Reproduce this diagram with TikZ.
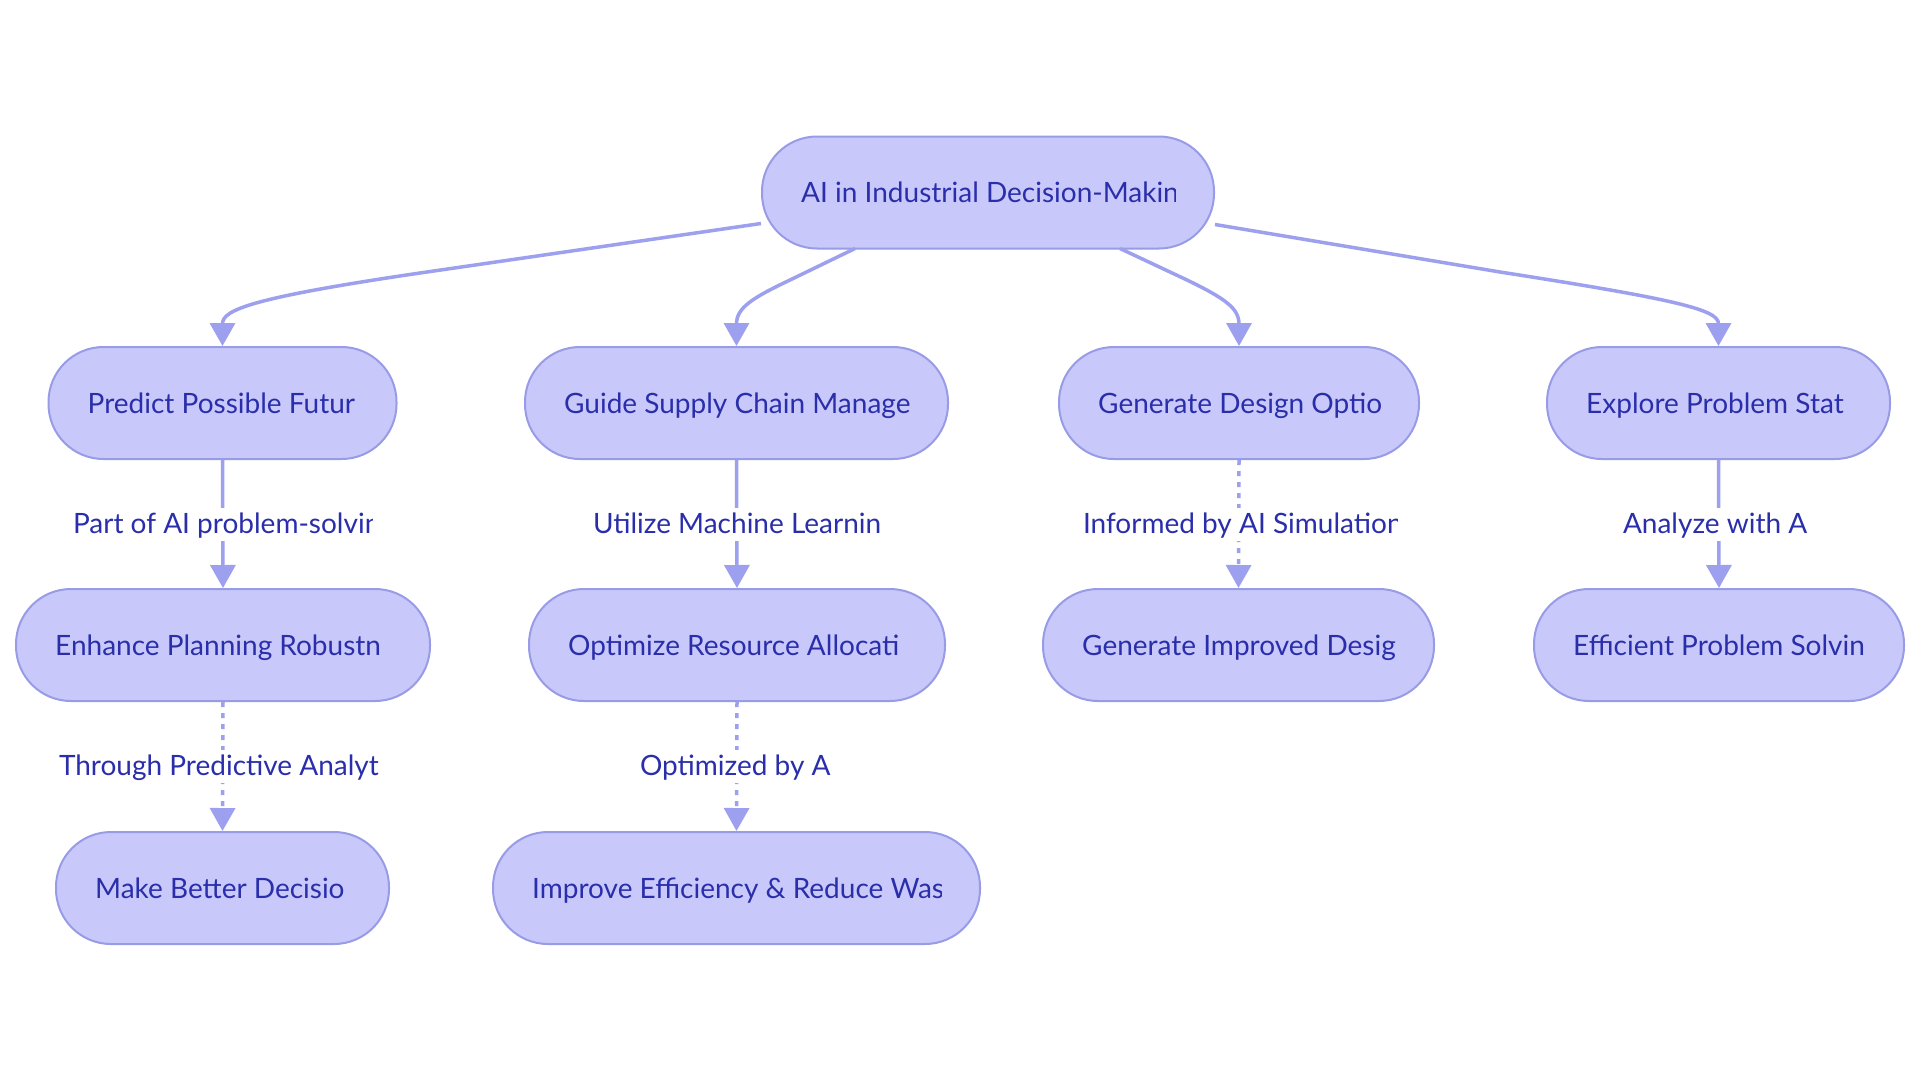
\documentclass[tikz,border=0pt]{standalone}
\usepackage{fontspec}
\setmainfont{Lato}
\usetikzlibrary{arrows.meta,calc}
\definecolor{nfill}{RGB}{200,201,250}
\definecolor{nline}{RGB}{152,155,230}
\definecolor{eline}{RGB}{157,160,238}
\definecolor{ntext}{RGB}{42,46,170}
\tikzset{
  stad/.style={draw=nline, fill=nfill, line width=2pt, rounded corners=55pt, minimum height=112pt, inner sep=0pt},
  txt/.style={text=ntext, inner sep=0pt, font=\fontsize{28}{33}\selectfont},
  lblbox/.style={fill=white, draw=none, minimum height=33pt, inner sep=0pt},
  conn/.style={draw=eline, line width=3.5pt, -{Triangle[length=23pt,width=25pt]}},
  dotconn/.style={conn, dash pattern=on 5pt off 6pt},
}
\newcommand\stadium[5]{%
  \node[stad, minimum width=#4pt] (#1) at (#2,#3) {};
  \begin{scope}
    \clip ($(#1.west)+(40,-30)$) rectangle ($(#1.east)+(-40,30)$);
    \node[txt, anchor=base west] (#1-t) at ($(#1.west)+(40,10)$) {#5};
  \end{scope}
}
\newcommand\edgelabel[5]{%
  \node[lblbox, minimum width=#4pt] (#1) at (#2,#3) {};
  \begin{scope}
    \clip (#1.south west) rectangle (#1.north east);
    \node[txt, anchor=base west] (#1-t) at ($(#1.west)+(0,9)$) {#5};
  \end{scope}
}
\begin{document}
\begin{tikzpicture}[x=1pt,y=-1pt]
\useasboundingbox[fill=white] (0,0) rectangle (1920,1080);
% nodes
\stadium{top}{988}{192.5}{452}{AI in Industrial Decision-Makin}
\stadium{pf}{222.5}{403}{348}{Predict Possible Futur}
\stadium{gs}{736.5}{403}{423}{Guide Supply Chain Manage}
\stadium{gd}{1239}{403}{360}{Generate Design Optio}
\stadium{ep}{1718.5}{403}{343}{Explore Problem Stat}
\stadium{eh}{223}{645}{414}{Enhance Planning Robustn}
\stadium{orr}{737}{645}{416}{Optimize Resource Allocati}
\stadium{gi}{1238.5}{645}{391}{Generate Improved Desig}
\stadium{ef}{1719}{645}{370}{Efficient Problem Solvin}
\stadium{mb}{222.5}{888}{333}{Make Better Decisio}
\stadium{ie}{736.5}{888}{487}{Improve Efficiency \& Reduce Was}
% top edges
\draw[conn] ($(top.west)+(0,31)$) -- (420,273) .. controls (250,298) and (222.5,310) .. (pf.north);
\draw[conn] ($(top.south)+(-133,-1)$) -- (790,280) .. controls (752,298) and (736.5,308) .. (gs.north);
\draw[conn] ($(top.south)+(132,-1)$) -- (1187,280) .. controls (1224,298) and (1239,308) .. (gd.north);
\draw[conn] ($(top.east)+(0,32)$) -- (1500,272) .. controls (1680,300) and (1718.5,310) .. (ep.north);
% vertical edges
\draw[conn] (pf.south) -- (eh.north);
\draw[conn] (gs.south) -- (orr.north);
\draw[dotconn] (gd.south) -- (gi.north);
\draw[conn] (ep.south) -- (ef.north);
\draw[dotconn] (eh.south) -- (mb.north);
\draw[dotconn] (orr.south) -- (ie.north);
% edge labels
\edgelabel{l1}{222.5}{524}{299}{Part of AI problem-solvin}
\edgelabel{l2}{737}{524}{288}{Utilize Machine Learnin}
\edgelabel{l3}{1240}{524}{314}{Informed by AI Simulation}
\edgelabel{l4}{1717.5}{524}{189}{Analyze with A}
\edgelabel{l5}{222.5}{766}{327}{Through Predictive Analyt}
\edgelabel{l6}{736.5}{766}{193}{Optimized by A}
\end{tikzpicture}
\end{document}
